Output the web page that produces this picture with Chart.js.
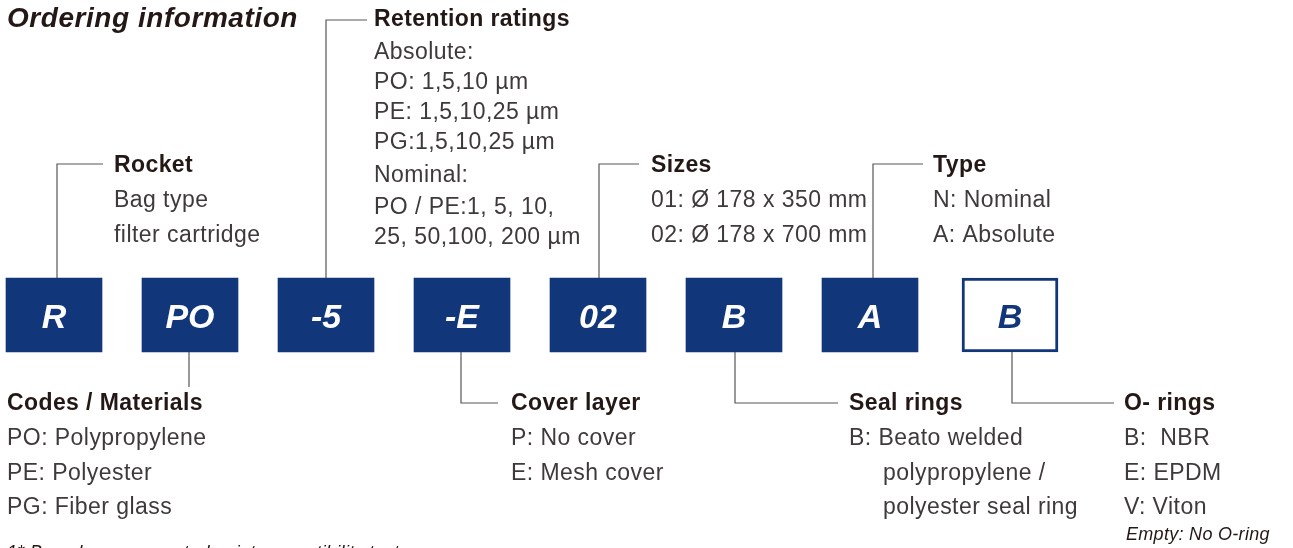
<!DOCTYPE html>
<html>
<head>
<meta charset="utf-8">
<script src="https://cdn.jsdelivr.net/npm/chart.js@4/dist/chart.umd.min.js"></script>
<style>
  html, body { margin: 0; padding: 0; background: #fff; }
  #wrap { width: 1293px; height: 548px; position: relative; }
</style>
</head>
<body>
<div id="wrap"><canvas id="orderChart"></canvas></div>
<script>
// code segments, left to right
const codes = ['R', 'PO', '-5', '-E', '02', 'B', 'A', 'B'];
const optional = [false, false, false, false, false, false, false, true];

// description blocks (title + lines)
const titles = ['Rocket', 'Codes / Materials', 'Retention ratings', 'Cover layer', 'Sizes', 'Seal rings', 'Type', 'O- rings'];
const rocketLines = ['Bag type', 'filter cartridge'];
const materialLines = ['PO: Polypropylene', 'PE: Polyester', 'PG: Fiber glass'];
const retentionLines = ['Absolute:', 'PO: 1,5,10 µm', 'PE: 1,5,10,25 µm', 'PG:1,5,10,25 µm', 'Nominal:', 'PO / PE:1, 5, 10,', '25, 50,100, 200 µm'];
const coverLines = ['P: No cover', 'E: Mesh cover'];
const sizeLines = ['01: Ø 178 x 350 mm', '02: Ø 178 x 700 mm'];
const sealLines = ['B: Beato welded', '   polypropylene /', '   polyester seal ring'];
const typeLines = ['N: Nominal', 'A: Absolute'];
const oringLines = ['B:  NBR', 'E: EPDM', 'V: Viton'];
const oringNote = 'Empty: No O-ring';
const footnote = '1* Based upon accepted paint compatibility test';

const BLUE = '#12367a';
const LINE = '#595757';
const DARK = '#231815';
const GREY = '#3e3a39';

// layout (pixel-like units on the hidden axes)
const boxX = [54, 190, 326, 462, 598, 734, 870, 1010];
const boxTop = 278;
const boxBottom = 352;

const blocks = [
  { x: 114, y: 166, lines: rocketLines, steps: [35, 35] },
  { x: 7, y: 404, lines: materialLines, steps: [35, 35, 34] },
  { x: 374, y: 20, lines: retentionLines, steps: [33, 30, 30, 30, 33, 32, 30] },
  { x: 511, y: 404, lines: coverLines, steps: [35, 35] },
  { x: 651, y: 166, lines: sizeLines, steps: [35, 35] },
  { x: 849, y: 404, lines: sealLines, steps: [35, 35, 34] },
  { x: 933, y: 166, lines: typeLines, steps: [35, 35] },
  { x: 1124, y: 404, lines: oringLines, steps: [35, 35, 34] },
];

const connectors = [
  [[57, 279], [57, 164], [103, 164]],
  [[189, 351], [189, 387]],
  [[326, 279], [326, 20], [367, 20]],
  [[461, 351], [461, 403], [498, 403]],
  [[599, 279], [599, 164], [639, 164]],
  [[735, 351], [735, 403], [838, 403]],
  [[873, 279], [873, 164], [923, 164]],
  [[1012, 352], [1012, 403], [1114, 403]],
];

const lineSets = connectors.map((pts) => ({
  type: 'line',
  data: pts.map((p) => ({ x: p[0], y: p[1] })),
  borderColor: LINE,
  borderWidth: 1.2,
  pointRadius: 0,
  tension: 0,
  fill: false,
}));

const textPlugin = {
  id: 'textPlugin',
  afterDatasetsDraw(chart) {
    const { ctx } = chart;
    const sx = chart.scales.x;
    const sy = chart.scales.y;
    const px = (v) => sx.getPixelForValue(v);
    const py = (v) => sy.getPixelForValue(v);
    ctx.save();
    ctx.textBaseline = 'middle';
    ctx.textAlign = 'left';

    // title
    ctx.fillStyle = DARK;
    ctx.font = 'italic bold 28px "Liberation Sans", Arial, sans-serif';
    ctx.letterSpacing = '0.55px';
    ctx.fillText('Ordering information', px(7), py(19));

    // blocks
    blocks.forEach((b, i) => {
      ctx.fillStyle = DARK;
      ctx.font = 'bold 23px "Liberation Sans", Arial, sans-serif';
      ctx.letterSpacing = '0.4px';
      ctx.fillText(titles[i], px(b.x), py(b.y));
      ctx.fillStyle = GREY;
      ctx.font = '23px "Liberation Sans", Arial, sans-serif';
      ctx.letterSpacing = '0.45px';
      let y = b.y;
      b.lines.forEach((t, j) => {
        y += b.steps[j];
        const lead = t.match(/^ */)[0].length;
        ctx.fillText(t.trim(), px(b.x + lead * 11.3), py(y));
      });
    });

    ctx.fillStyle = DARK;
    ctx.font = 'italic 18px "Liberation Sans", Arial, sans-serif';
    ctx.letterSpacing = '0.3px';
    ctx.fillText(oringNote, px(1126), py(535));
    ctx.fillText(footnote, px(7), py(553));

    // box letters
    ctx.textAlign = 'center';
    ctx.textBaseline = 'alphabetic';
    ctx.font = 'italic bold 34px "Liberation Sans", Arial, sans-serif';
    ctx.letterSpacing = '0px';
    codes.forEach((c, i) => {
      ctx.fillStyle = optional[i] ? BLUE : '#ffffff';
      ctx.fillText(c, px(boxX[i]), py(328));
    });
    ctx.restore();
  },
};

const ctx = document.getElementById('orderChart').getContext('2d');
const chart = new Chart(ctx, {
  data: {
    datasets: [
      {
        type: 'bar',
        data: boxX.map((x, i) => ({ x, y: [boxTop, boxBottom] })),
        backgroundColor: optional.map((o) => (o ? '#ffffff' : BLUE)),
        borderColor: BLUE,
        borderWidth: optional.map((o) => (o ? 3 : 0)),
        borderSkipped: false,
        barThickness: 96,
        grouped: false,
      },
      ...lineSets,
    ],
  },
  options: {
    responsive: true,
    maintainAspectRatio: false,
    animation: false,
    layout: { padding: 0 },
    plugins: { legend: { display: false }, tooltip: { enabled: false } },
    scales: {
      x: { type: 'linear', min: 0, max: 1293, display: false, offset: false },
      y: { type: 'linear', min: 0, max: 548, reverse: true, display: false },
    },
  },
  plugins: [textPlugin],
});
</script>
</body>
</html>
